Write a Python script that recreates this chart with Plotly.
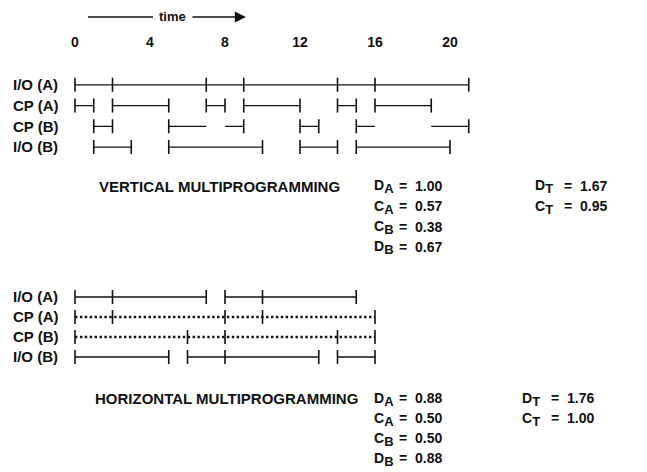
import plotly.graph_objects as go

# ---------------- data ----------------
time_ticks = [0, 4, 8, 12, 16, 20]
rows = ["I/O (A)", "CP (A)", "CP (B)", "I/O (B)"]

# vertical multiprogramming: (start, end) intervals and drawn tick marks
v_io_a = [(0, 2), (2, 7), (7, 9), (9, 14), (14, 16), (16, 21)]
v_io_a_marks = [0, 2, 7, 9, 14, 16, 21]
v_cp_a = [(0, 1), (2, 5), (7, 8), (9, 12), (14, 15), (16, 19)]
v_cp_a_marks = [0, 1, 2, 5, 7, 8, 9, 12, 14, 15, 16, 19]
v_cp_b = [(1, 2), (5, 7), (8, 9), (12, 13), (15, 16), (19, 21)]
v_cp_b_marks = [1, 2, 5, 9, 12, 13, 15, 21]
v_io_b = [(1, 3), (5, 10), (12, 14), (15, 20)]
v_io_b_marks = [1, 3, 5, 10, 12, 14, 15, 20]

# horizontal multiprogramming
h_io_a = [(0, 2), (2, 7), (8, 10), (10, 15)]
h_io_a_marks = [0, 2, 7, 8, 10, 15]
h_cp_a = [(0, 16)]
h_cp_a_marks = [0, 2, 8, 10, 16]
h_cp_b = [(0, 16)]
h_cp_b_marks = [0, 6, 8, 14, 16]
h_io_b = [(0, 5), (6, 8), (8, 13), (14, 16)]
h_io_b_marks = [0, 5, 6, 8, 13, 14, 16]

stat_names = ["D", "C", "C", "D"]
stat_subs = ["A", "A", "B", "B"]
v_stats = [1.00, 0.57, 0.38, 0.67]
h_stats = [0.88, 0.50, 0.50, 0.88]
tot_names = ["D", "C"]
tot_subs = ["T", "T"]
v_totals = [1.67, 0.95]
h_totals = [1.76, 1.00]

v_title = "VERTICAL MULTIPROGRAMMING"
h_title = "HORIZONTAL MULTIPROGRAMMING"

# ---------------- layout helpers ----------------
W, H = 647, 472
ML = 10
FONT = "Liberation Sans, Arial, Helvetica, sans-serif"
INK = "#111111"
X0_PX, PX_PER_UNIT = 75.0, 18.75
xr = [(ML - X0_PX) / PX_PER_UNIT, (W - X0_PX) / PX_PER_UNIT]


def px(xp):
    return (xp - ML) / (W - ML)


def py(yp):
    return 1 - yp / H


fig = go.Figure()


def add_row(segs, marks, row, xa, ya, dotted=False):
    xs, ys = [], []
    for a, b in segs:
        xs += [a, b, None]
        ys += [row, row, None]
    fig.add_trace(go.Scatter(
        x=xs, y=ys, mode="lines", xaxis=xa, yaxis=ya, hoverinfo="skip",
        line=dict(color=INK, width=2.5 if dotted else 1.4,
                  dash="2.4px,2.5px" if dotted else "solid"),
        showlegend=False))
    fig.add_trace(go.Scatter(
        x=marks, y=[row] * len(marks), mode="markers", xaxis=xa, yaxis=ya,
        hoverinfo="skip",
        marker=dict(symbol="line-ns", size=10, color=INK,
                    line=dict(color=INK, width=1.6)),
        showlegend=False))


for segs, marks, row in [(v_io_a, v_io_a_marks, rows[0]), (v_cp_a, v_cp_a_marks, rows[1]),
                         (v_cp_b, v_cp_b_marks, rows[2]), (v_io_b, v_io_b_marks, rows[3])]:
    add_row(segs, marks, row, "x", "y")

for segs, marks, row, dot in [(h_io_a, h_io_a_marks, rows[0], False), (h_cp_a, h_cp_a_marks, rows[1], True),
                              (h_cp_b, h_cp_b_marks, rows[2], True), (h_io_b, h_io_b_marks, rows[3], False)]:
    add_row(segs, marks, row, "x2", "y2", dotted=dot)

tickfont = dict(family=FONT, size=14, color=INK, weight="bold")
rowfont = dict(family=FONT, size=15, color=INK, weight="bold")

yax_common = dict(type="category", categoryorder="array", categoryarray=rows,
                  range=[3.5, -0.5], showgrid=False, zeroline=False, showline=False,
                  ticks="", ticklabelposition="inside", tickfont=rowfont, fixedrange=True)

fig.update_layout(
    width=W, height=H,
    margin=dict(l=ML, r=0, t=0, b=0),
    paper_bgcolor="white", plot_bgcolor="white",
    xaxis=dict(range=xr, domain=[0, 1], side="top", tickvals=time_ticks,
               showgrid=False, zeroline=False, showline=False, ticks="",
               ticklabelstandoff=24, tickfont=tickfont, anchor="y", fixedrange=True),
    yaxis=dict(domain=[py(157.5), py(74.5)], anchor="x", **yax_common),
    xaxis2=dict(range=xr, domain=[0, 1], showticklabels=False, showgrid=False,
                zeroline=False, showline=False, ticks="", anchor="y2", fixedrange=True),
    yaxis2=dict(domain=[py(367), py(287)], anchor="x2", **yax_common),
)


def text(x, y, s, anchor="left", size=14):
    fig.add_annotation(x=px(x), y=py(y), xref="paper", yref="paper", text=s,
                       showarrow=False, xanchor=anchor, yanchor="middle",
                       font=dict(family=FONT, size=size, color=INK, weight="bold"))


# time arrow header
fig.add_shape(type="line", xref="paper", yref="paper", x0=px(88), x1=px(153),
              y0=py(17), y1=py(17), line=dict(color=INK, width=1.4))
text(172, 16, "time", anchor="center", size=13)
fig.add_annotation(x=px(246), y=py(17), xref="paper", yref="paper", ax=-55, ay=0,
                   text="", showarrow=True, arrowhead=2, arrowsize=1.6, arrowwidth=1.4,
                   arrowcolor=INK)


def sym(n, s):
    return f"{n}<sub><span style='font-size:13px'>{s}</span></sub>"


# stats blocks
def stats_block(title, title_cx, y0, vals, tot_vals, lx, ex, tx, tex, step):
    text(title_cx, y0, title, anchor="center", size=15)
    for i, (n, s, v) in enumerate(zip(stat_names, stat_subs, vals)):
        yy = y0 + i * step
        text(lx, yy + 1, sym(n, s))
        text(ex, yy, f"=\u00a0\u00a0{v:.2f}")
    for i, (n, s, v) in enumerate(zip(tot_names, tot_subs, tot_vals)):
        yy = y0 + i * step
        text(tx, yy + 1, sym(n, s))
        text(tex, yy, f"=\u00a0\u00a0{v:.2f}")


stats_block(v_title, 219, 186, v_stats, v_totals, 372, 397, 533, 562, 20.3)
stats_block(h_title, 226, 398, h_stats, h_totals, 372, 397, 520, 549, 20.0)

fig.write_html("out.html", config={"displayModeBar": False, "staticPlot": True},
               post_script="document.body.style.margin='0';")
